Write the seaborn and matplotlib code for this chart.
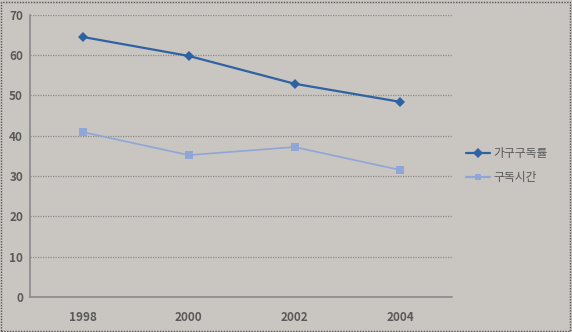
import matplotlib
matplotlib.use("Agg")
import matplotlib.pyplot as plt
from matplotlib.patches import Rectangle
import seaborn as sns
import pandas as pd

years = ["1998", "2000", "2002", "2004"]
household_rate = [64.5, 59.8, 52.9, 48.4]
reading_time = [40.9, 35.2, 37.2, 31.5]
series_names = ["가구구독률", "구독시간"]

sns.set_theme(style="white")
plt.rcParams['font.family'] = ['Noto Sans CJK KR', 'DejaVu Sans']

bg = "#c9c5c1"
fig = plt.figure(figsize=(5.72, 3.32), dpi=100, facecolor=bg)
ax = fig.add_axes([0.0524, 0.1054, 0.74, 0.85])
ax.set_facecolor(bg)

df = pd.DataFrame({
    "year": years * 2,
    "value": household_rate + reading_time,
    "series": [series_names[0]] * 4 + [series_names[1]] * 4,
})

palette = {series_names[0]: "#2e62a3", series_names[1]: "#8fa6d6"}
sns.lineplot(data=df, x="year", y="value", hue="series", style="series",
             markers={series_names[0]: "D", series_names[1]: "s"},
             dashes=False, palette=palette, sort=False, ax=ax,
             markersize=5, linewidth=1.6, markeredgewidth=0)
if len(ax.lines) > 1:
    ax.lines[1].set_linewidth(1.2)
    ax.lines[1].set_markersize(6)

ax.set_xlim(-0.5, 3.5)
ax.set_ylim(0, 70)
ax.set_yticks(range(0, 71, 10))
ax.yaxis.grid(True, color="#8c8c8c", linestyle=(0, (1, 1)), linewidth=0.9)
ax.xaxis.grid(False)
for s in ["top", "right"]:
    ax.spines[s].set_visible(False)
ax.spines["left"].set_color("#8c8c8c")
ax.spines["left"].set_linestyle((0, (1, 1)))
ax.spines["bottom"].set_color("#8c8c8c")
ax.spines["bottom"].set_linestyle((0, (1, 1)))
ax.tick_params(axis="both", colors="#595959", labelsize=8.5, length=0, pad=5)
ax.tick_params(axis="x", pad=10)
ax.set_xlabel("")
ax.set_ylabel("")
for t in ax.get_xticklabels() + ax.get_yticklabels():
    t.set_fontweight("bold")

handles, labels = ax.get_legend_handles_labels()
leg = ax.legend(handles, labels, loc="center left", bbox_to_anchor=(1.005, 0.465),
                frameon=False, fontsize=8.5, labelcolor="#595959", handlelength=2.0,
                handletextpad=0.3, labelspacing=0.9)

fig.patches.append(Rectangle((0.002, 0.003), 0.995, 0.992, transform=fig.transFigure,
                             fill=False, edgecolor="#555555", linestyle=(0, (1, 1)),
                             linewidth=1.0))

fig.savefig("out.png", dpi=100, facecolor=bg)
